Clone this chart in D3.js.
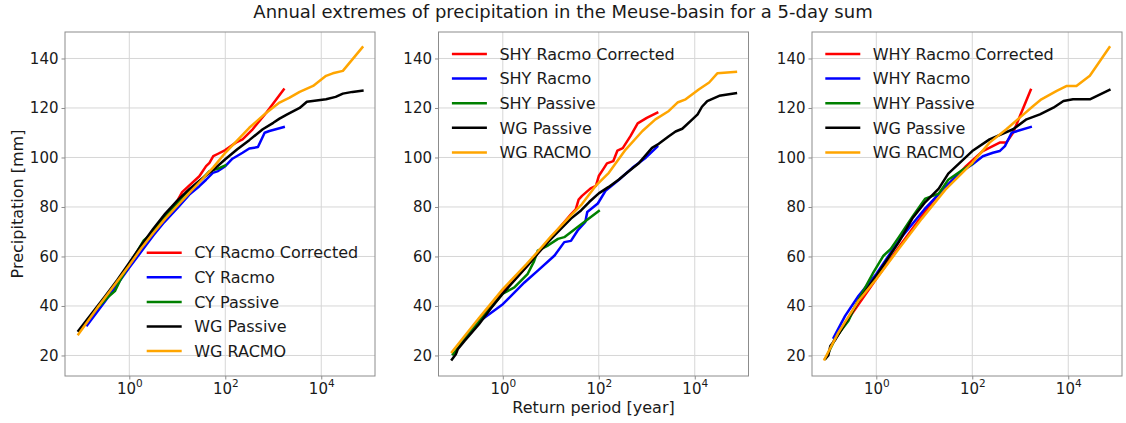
<!DOCTYPE html>
<html>
<head>
<meta charset="utf-8">
<script src="https://cdn.jsdelivr.net/npm/d3@7"></script>
<style>
  html, body { margin: 0; padding: 0; background: #fff; }
  svg { display: block; font-family: "DejaVu Sans", sans-serif; }
</style>
</head>
<body>
<svg id="chart" width="1126" height="423"></svg>
<script>
// ---------------- DATA (return period [year], precipitation [mm]) ----------------
const TITLE = "Annual extremes of precipitation in the Meuse-basin for a 5-day sum";
const X_LABEL = "Return period [year]";
const Y_LABEL = "Precipitation [mm]";
const Y_TICKS = [20, 40, 60, 80, 100, 120, 140];
const X_TICK_EXPONENTS = [0, 2, 4];
const PANEL_PREFIXES = ["CY", "SHY", "WHY"];
const SERIES_NAMES = ["Racmo Corrected", "Racmo", "Passive"];
const WG_NAMES = ["WG Passive", "WG RACMO"];
const SERIES_COLORS = ["#ff0000", "#0000ff", "#008000", "#000000", "#ffa500"];

// Panel 1 (CY)
const CY_RACMO_CORRECTED = [[0.132,33],[0.316,43],[1,56.5],[3.16,70],[10,82.5],[12.6,86],[28.8,92.4],[39.8,96.5],[46.8,97.8],[56.2,100.5],[70.8,101.5],[100,103],[166,106],[229,107.3],[372,111.4],[708,118],[1650,127.5]];
const CY_RACMO = [[0.132,32.2],[0.316,42],[1,55.5],[3.16,68.5],[5.37,73.9],[10,79.5],[17.8,85],[28.8,88.4],[39.8,91],[55,93.8],[70.8,94.5],[100,96.5],[141,99.5],[229,101.9],[316,103.6],[479,104.2],[661,110],[832,110.7],[1650,112.3]];
const CY_PASSIVE = [[0.0912,30],[0.2,38.5],[0.355,43.5],[0.501,46],[0.631,50],[1,57],[1.41,61.5],[2.0,66.5],[2.82,69],[5.01,75.5],[7.94,79.5],[15.8,86],[31.6,91],[46.8,94.5],[70.8,95.5],[100,96.8]];
const CY_WG_PASSIVE = [[0.087,30],[0.126,34],[0.316,44],[0.562,50.5],[1,57.5],[1.78,64.5],[3.16,71.2],[5.62,77.3],[10,82.6],[17.8,87.2],[31.6,91.2],[56.2,95],[100,99.3],[178,103.3],[316,107],[603,111.4],[1000,114],[1349,115.7],[1995,117.5],[3548,120],[5012,122.5],[7943,123],[12589,123.5],[19953,124.5],[28184,125.8],[44668,126.5],[72000,127]];
const CY_WG_RACMO = [[0.087,28.6],[0.219,39.4],[0.562,50],[1,56.5],[1.78,63.3],[3.16,69.5],[5.62,75.3],[10,80.5],[17.8,85.7],[31.6,90.8],[56.2,96],[100,101.9],[316,112],[708,118],[1349,122.2],[2188,124.2],[3548,126.5],[6761,128.9],[12589,133],[17378,134],[28184,135],[72000,144.5]];

// Panel 2 (SHY)
const SHY_RACMO_CORRECTED = [[0.132,25],[0.316,34.5],[0.676,41.4],[1,45.5],[3.16,56],[10,67.5],[26.3,77],[33.1,79],[38,83],[44.7,84.5],[67.6,87.5],[87.1,88.5],[100,92.5],[126,95.5],[148,97.6],[200,98.5],[245,102.8],[316,103.8],[457,108.6],[646,113.8],[1000,116],[1650,118.1]];
const SHY_RACMO = [[0.14,25.8],[0.302,33.3],[1,40.7],[2.82,49.5],[5.37,54.3],[12.0,60.4],[19.1,65.8],[26.3,66.3],[36.3,70.5],[52.5,74],[57.5,78],[95.5,81.4],[138,86.5],[263,91],[501,95.8],[955,99.9],[1650,104.3]];
const SHY_PASSIVE = [[0.0912,20.5],[0.316,33.5],[1,45],[1.74,47.5],[3.31,53],[4.47,58],[5.37,62.4],[8.71,64.4],[14.1,67.1],[19.1,67.8],[36.3,71.9],[100,78.4]];
const SHY_WG_PASSIVE = [[0.087,18.4],[0.105,20.5],[0.115,22.5],[0.158,25.8],[0.316,32.5],[0.562,39],[1,45],[1.78,50.5],[3.16,56],[5.37,61.2],[10,67],[17.8,72],[26.3,75.3],[42.7,78.6],[63.1,82],[100,85.5],[158,88],[263,91.1],[398,94],[692,97.8],[1288,103.9],[1778,105.5],[2884,108.6],[3981,110.5],[5495,111.6],[8913,115.4],[11482,117.4],[14125,120.5],[18197,122.8],[32359,124.9],[72000,126]];
const SHY_WG_RACMO = [[0.087,21.4],[0.178,29],[0.316,35],[1,46.8],[3.16,57],[5.37,62],[10,68],[26.3,76.6],[42.7,80.7],[85.1,88.4],[162,93.8],[363,103.2],[813,110.7],[1514,115.4],[2884,118.8],[4365,122.2],[6457,123.5],[12303,127.6],[19953,130.3],[29512,134],[72000,134.6]];

// Panel 3 (WHY)
const WHY_RACMO_CORRECTED = [[0.132,26],[0.316,37],[1,51],[3.16,64.5],[11.5,79.3],[20,85.4],[39.8,91],[74.1,96.5],[166,102.6],[372,106],[513,106],[708,110],[1650,127.3]];
const WHY_RACMO = [[0.129,27.2],[0.224,36],[0.427,44.1],[1,52.9],[2.95,66.5],[10,79],[28.8,88.4],[55,93.8],[100,97.2],[166,100.5],[269,101.9],[372,102.6],[479,104.6],[661,110],[1650,112.3]];
const WHY_PASSIVE = [[0.0891,19],[0.141,27],[0.2,31],[0.263,34],[0.339,38.7],[0.501,45],[0.871,53.6],[1.41,60.3],[2.0,63],[2.95,67.8],[5.62,76],[10.5,83.4],[20,85.4],[31.6,91],[63.1,95],[100,97.4]];
const WHY_WG_PASSIVE = [[0.087,18.7],[0.1,20],[0.11,23.8],[0.141,26.5],[0.224,33],[0.427,42],[1,52.2],[2.95,65.8],[5.62,75.3],[10.5,82],[20,87.4],[31.6,93.5],[100,102.6],[229,107.3],[708,111.4],[1349,115.4],[2570,117.4],[4898,120.1],[7943,122.8],[12589,123.5],[28184,123.5],[72000,127.3]];
const WHY_WG_RACMO = [[0.0832,18.4],[0.162,29.2],[0.427,42.1],[1,50.9],[2.95,63.1],[8.91,75.3],[27.5,87],[100,97.8],[229,106],[513,111.4],[977,116.1],[1862,120.8],[2754,123.5],[5754,126.9],[9333,128.9],[14791,128.9],[28184,133],[72000,144.5]];

// ---------------- LAYOUT ----------------
const PANEL_LEFTS = [65, 438.5, 812];
const PANEL_W = 310, PANEL_TOP = 32, PANEL_H = 344;
const X_DOMAIN = [0.0457, 131826];
const Y_DOMAIN = [11.7, 150.7];
const LEGEND_POS = [{x: 81.7, y: 220.7}, {x: 13.4, y: 22}, {x: 13.3, y: 22}];
const LEGEND_STEP = 24.6;

const panels = [
  [CY_RACMO_CORRECTED, CY_RACMO, CY_PASSIVE, CY_WG_PASSIVE, CY_WG_RACMO],
  [SHY_RACMO_CORRECTED, SHY_RACMO, SHY_PASSIVE, SHY_WG_PASSIVE, SHY_WG_RACMO],
  [WHY_RACMO_CORRECTED, WHY_RACMO, WHY_PASSIVE, WHY_WG_PASSIVE, WHY_WG_RACMO]
];

const svg = d3.select("#chart");
const TEXT = "#1a1a1a";
const SPINE = "#8c8c8c";
const GRID = "#d6d6d6";

svg.append("text")
  .attr("x", 563).attr("y", 18)
  .attr("text-anchor", "middle")
  .attr("font-size", 18).attr("fill", TEXT)
  .text(TITLE);

panels.forEach((series, pi) => {
  const x = d3.scaleLog().domain(X_DOMAIN).range([0, PANEL_W]);
  const y = d3.scaleLinear().domain(Y_DOMAIN).range([PANEL_H, 0]);
  const g = svg.append("g").attr("transform", `translate(${PANEL_LEFTS[pi]},${PANEL_TOP})`);

  const xTicks = X_TICK_EXPONENTS.map(e => Math.pow(10, e));

  // grid
  g.append("g").selectAll("line.gx").data(xTicks).join("line")
    .attr("x1", d => x(d)).attr("x2", d => x(d))
    .attr("y1", 0).attr("y2", PANEL_H)
    .attr("stroke", GRID).attr("stroke-width", 1);
  g.append("g").selectAll("line.gy").data(Y_TICKS).join("line")
    .attr("x1", 0).attr("x2", PANEL_W)
    .attr("y1", d => y(d)).attr("y2", d => y(d))
    .attr("stroke", GRID).attr("stroke-width", 1);

  // axes
  const yAxis = d3.axisLeft(y).tickValues(Y_TICKS).tickSize(3.5).tickPadding(3);
  const ya = g.append("g").call(yAxis);
  ya.select(".domain").remove();
  ya.selectAll(".tick line").attr("stroke", SPINE);
  ya.selectAll(".tick text").attr("font-size", 15).attr("fill", TEXT)
    .attr("font-family", "DejaVu Sans, sans-serif");

  const xAxis = d3.axisBottom(x).tickValues(xTicks).tickSize(3.5).tickPadding(4).tickFormat(() => "");
  const xa = g.append("g").attr("transform", `translate(0,${PANEL_H})`).call(xAxis);
  xa.select(".domain").remove();
  xa.selectAll(".tick line").attr("stroke", SPINE);
  xa.selectAll(".tick text").remove();
  xa.selectAll(".tick").each(function(d, i) {
    const t = d3.select(this).append("text")
      .attr("y", 18).attr("text-anchor", "middle")
      .attr("font-size", 15).attr("fill", TEXT)
      .attr("font-family", "DejaVu Sans, sans-serif");
    t.append("tspan").text("10");
    t.append("tspan").attr("font-size", 10.5).attr("dy", -7).text(String(X_TICK_EXPONENTS[i]));
  });

  // lines
  const line = d3.line().x(d => x(d[0])).y(d => y(d[1]));
  const plot = g.append("g");
  series.forEach((data, si) => {
    plot.append("path")
      .datum(data)
      .attr("d", line)
      .attr("fill", "none")
      .attr("stroke", SERIES_COLORS[si])
      .attr("stroke-width", 2.5)
      .attr("stroke-linejoin", "round")
      .attr("stroke-linecap", "square");
  });

  // frame
  g.append("rect").attr("x", 0).attr("y", 0).attr("width", PANEL_W).attr("height", PANEL_H)
    .attr("fill", "none").attr("stroke", SPINE).attr("stroke-width", 1);

  // legend
  const labels = SERIES_NAMES.map(n => PANEL_PREFIXES[pi] + " " + n).concat(WG_NAMES);
  const lg = g.append("g").attr("transform", `translate(${LEGEND_POS[pi].x},${LEGEND_POS[pi].y})`);
  labels.forEach((lab, li) => {
    const yy = li * LEGEND_STEP;
    lg.append("line").attr("x1", 0).attr("x2", 35).attr("y1", yy).attr("y2", yy)
      .attr("stroke", SERIES_COLORS[li]).attr("stroke-width", 2.5);
    lg.append("text").attr("x", 47.5).attr("y", yy).attr("dy", "0.36em")
      .attr("font-size", 16).attr("fill", TEXT).text(lab);
  });

  if (pi === 0) {
    svg.append("text")
      .attr("transform", `translate(17.5,${PANEL_TOP + PANEL_H / 2}) rotate(-90)`)
      .attr("text-anchor", "middle").attr("dy", "0.35em")
      .attr("font-size", 16).attr("fill", TEXT).text(Y_LABEL);
  }
  if (pi === 1) {
    svg.append("text")
      .attr("x", PANEL_LEFTS[pi] + PANEL_W / 2).attr("y", 413)
      .attr("text-anchor", "middle")
      .attr("font-size", 16).attr("fill", TEXT).text(X_LABEL);
  }
});
</script>
</body>
</html>
